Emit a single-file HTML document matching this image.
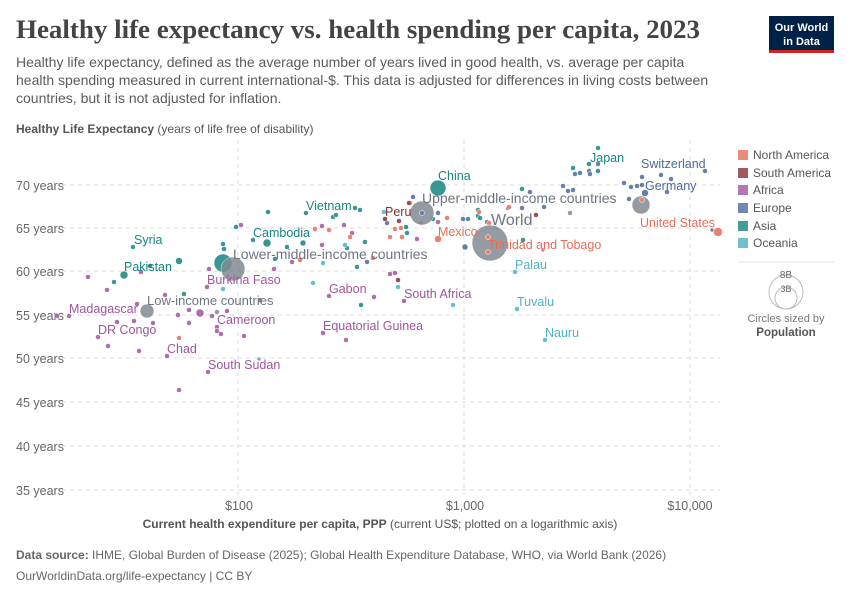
<!DOCTYPE html>
<html><head><meta charset="utf-8"><style>
body{margin:0;background:#fff;width:850px;height:600px;overflow:hidden;font-family:"Liberation Sans",sans-serif}
</style></head><body>
<svg width="850" height="600" xmlns="http://www.w3.org/2000/svg" font-family="Liberation Sans, sans-serif">
<text x="16" y="38" font-family="Liberation Serif, serif" font-size="26" font-weight="bold" fill="#444" textLength="684" lengthAdjust="spacingAndGlyphs">Healthy life expectancy vs. health spending per capita, 2023</text>
<g font-size="14" fill="#5b5b5b">
<text x="16" y="67">Healthy life expectancy, defined as the average number of years lived in good health, vs. average per capita</text>
<text x="16" y="85">health spending measured in current international-$. This data is adjusted for differences in living costs between</text>
<text x="16" y="103">countries, but it is not adjusted for inflation.</text>
</g>
<rect x="769" y="16" width="65" height="36" fill="#002147"/>
<rect x="769" y="50" width="65" height="3" fill="#ce261e"/>
<text x="801.5" y="31" font-size="11" font-weight="bold" fill="#fff" text-anchor="middle">Our World</text>
<text x="801.5" y="45" font-size="11" font-weight="bold" fill="#fff" text-anchor="middle">in Data</text>
<text x="16" y="133" font-size="12" fill="#555"><tspan font-weight="bold">Healthy Life Expectancy</tspan> (years of life free of disability)</text>
<g stroke="#ddd" stroke-dasharray="4,4" stroke-width="1">
<line x1="62" x2="720" y1="185" y2="185"/><line x1="62" x2="720" y1="228" y2="228"/><line x1="62" x2="720" y1="271" y2="271"/><line x1="62" x2="720" y1="315" y2="315"/><line x1="62" x2="720" y1="358" y2="358"/><line x1="62" x2="720" y1="402" y2="402"/><line x1="62" x2="720" y1="446" y2="446"/><line x1="62" x2="720" y1="490" y2="490"/>
<line x1="238" x2="238" y1="140" y2="495"/><line x1="464" x2="464" y1="140" y2="495"/><line x1="690" x2="690" y1="140" y2="495"/>
</g>
<g font-size="12.5" fill="#666">
<text x="16" y="190">70 years</text><text x="16" y="233">65 years</text><text x="16" y="276">60 years</text><text x="16" y="320">55 years</text><text x="16" y="363">50 years</text><text x="16" y="407">45 years</text><text x="16" y="451">40 years</text><text x="16" y="495">35 years</text>
</g>
<g font-size="12.5" fill="#666" text-anchor="middle">
<text x="239" y="510">$100</text><text x="465" y="510">$1,000</text><text x="690" y="510">$10,000</text>
</g>
<text x="380" y="528" font-size="12" fill="#555" text-anchor="middle"><tspan font-weight="bold">Current health expenditure per capita, PPP</tspan> (current US$; plotted on a logarithmic axis)</text>
<text x="16" y="559" font-size="12" fill="#666"><tspan font-weight="bold">Data source:</tspan> IHME, Global Burden of Disease (2025); Global Health Expenditure Database, WHO, via World Bank (2026)</text>
<text x="16" y="580" font-size="12" fill="#666">OurWorldinData.org/life-expectancy | CC BY</text>

<g stroke="#fff" stroke-width="0.5" opacity="0.85">
<g fill="#a2559c">
<circle cx="88" cy="277" r="2.5"/><circle cx="107" cy="290" r="2.5"/><circle cx="141" cy="272" r="2.5"/><circle cx="165" cy="295" r="2.5"/><circle cx="137" cy="304" r="2.5"/><circle cx="69" cy="316" r="2.5"/><circle cx="117" cy="322" r="2.5"/><circle cx="134" cy="321" r="2.5"/><circle cx="153" cy="323" r="2.5"/><circle cx="98" cy="337" r="2.5"/><circle cx="108" cy="346" r="2.5"/><circle cx="139" cy="351" r="2.5"/><circle cx="167" cy="356" r="2.5"/><circle cx="178" cy="315" r="2.5"/><circle cx="189" cy="310" r="2.5"/><circle cx="200" cy="313" r="4"/><circle cx="189" cy="323" r="2.5"/><circle cx="212" cy="316" r="2.5"/><circle cx="227" cy="311" r="2.5"/><circle cx="217" cy="327" r="2.5"/><circle cx="217" cy="331" r="2.5"/><circle cx="221" cy="334" r="2.5"/><circle cx="244" cy="336" r="2.5"/><circle cx="208" cy="372" r="2.5"/><circle cx="179" cy="390" r="2.5"/><circle cx="207" cy="287" r="2.5"/><circle cx="209" cy="269" r="2.5"/><circle cx="241" cy="225" r="2.5"/><circle cx="274" cy="269" r="2.5"/><circle cx="292" cy="262" r="2.5"/><circle cx="322" cy="226" r="2.5"/><circle cx="344" cy="225" r="2.5"/><circle cx="352" cy="233" r="2.5"/><circle cx="322" cy="245" r="2.5"/><circle cx="329" cy="296" r="2.5"/><circle cx="374" cy="297" r="2.5"/><circle cx="323" cy="333" r="2.5"/><circle cx="346" cy="340" r="2.5"/><circle cx="390" cy="274" r="2.5"/><circle cx="395" cy="273" r="2.5"/><circle cx="404" cy="301" r="2.5"/><circle cx="417" cy="239" r="2.5"/><circle cx="438" cy="222" r="2.5"/><circle cx="260" cy="300" r="2.5"/><circle cx="57" cy="316" r="2.5"/>
</g>
<g fill="#16857f">
<circle cx="133" cy="247" r="2.5"/><circle cx="124" cy="275" r="4"/><circle cx="114" cy="282" r="2.5"/><circle cx="179" cy="261" r="3.5"/><circle cx="184" cy="294" r="2.5"/><circle cx="223" cy="263" r="9"/><circle cx="223" cy="244" r="2.5"/><circle cx="224" cy="249" r="2.5"/><circle cx="236" cy="227" r="2.5"/><circle cx="268" cy="212" r="2.5"/><circle cx="253" cy="240" r="2.5"/><circle cx="267" cy="243" r="4"/><circle cx="287" cy="247" r="2.5"/><circle cx="303" cy="243" r="3"/><circle cx="275" cy="259" r="2.5"/><circle cx="306" cy="213" r="2.5"/><circle cx="333" cy="217" r="2.5"/><circle cx="336" cy="215" r="2.5"/><circle cx="355" cy="208" r="2.5"/><circle cx="360" cy="210" r="2.5"/><circle cx="365" cy="242" r="2.5"/><circle cx="347" cy="248" r="2.5"/><circle cx="357" cy="267" r="2.5"/><circle cx="361" cy="305" r="2.5"/><circle cx="406" cy="227" r="2.5"/><circle cx="407" cy="233" r="2.5"/><circle cx="438" cy="188" r="8"/><circle cx="433" cy="219" r="2.5"/><circle cx="478" cy="210" r="2.5"/><circle cx="478" cy="216" r="2.5"/><circle cx="480" cy="218" r="2.5"/><circle cx="523" cy="240" r="2.5"/><circle cx="522" cy="189" r="2.5"/><circle cx="598" cy="148" r="2.5"/><circle cx="573" cy="168" r="2.5"/><circle cx="589" cy="164" r="2.5"/><circle cx="598" cy="171" r="2.5"/><circle cx="150" cy="266" r="2.5"/>
</g>
<g fill="#4c6a9c">
<circle cx="367" cy="262" r="2.5"/><circle cx="387" cy="223" r="2.5"/><circle cx="413" cy="197" r="2.5"/><circle cx="438" cy="213" r="2.5"/><circle cx="463" cy="219" r="2.5"/><circle cx="468" cy="219" r="2.5"/><circle cx="487" cy="222" r="2.5"/><circle cx="508" cy="208" r="2.5"/><circle cx="522" cy="208" r="2.5"/><circle cx="544" cy="207" r="2.5"/><circle cx="530" cy="192" r="2.5"/><circle cx="563" cy="186" r="2.5"/><circle cx="568" cy="191" r="2.5"/><circle cx="573" cy="190" r="2.5"/><circle cx="465" cy="247" r="3"/><circle cx="598" cy="164" r="2.5"/><circle cx="575" cy="174" r="2.5"/><circle cx="580" cy="173" r="2.5"/><circle cx="589" cy="171" r="2.5"/><circle cx="590" cy="174" r="2.5"/><circle cx="624" cy="183" r="2.5"/><circle cx="631" cy="187" r="2.5"/><circle cx="637" cy="186" r="2.5"/><circle cx="642" cy="177" r="2.5"/><circle cx="642" cy="185" r="2.5"/><circle cx="645" cy="193" r="3.5"/><circle cx="661" cy="175" r="2.5"/><circle cx="671" cy="179" r="2.5"/><circle cx="667" cy="192" r="2.5"/><circle cx="629" cy="199" r="2.5"/><circle cx="705" cy="171" r="2.5"/><circle cx="712" cy="230" r="2"/>
</g>
<g fill="#883039">
<circle cx="385" cy="219" r="2.5"/><circle cx="399" cy="221" r="2.5"/><circle cx="410" cy="203" r="2.5"/><circle cx="409" cy="203" r="2.5"/><circle cx="398" cy="280" r="2.5"/><circle cx="536" cy="215" r="2.5"/>
</g>
<g fill="#e56e5a">
<circle cx="179" cy="338" r="2.5"/><circle cx="300" cy="260" r="2.5"/><circle cx="315" cy="229" r="2.5"/><circle cx="329" cy="230" r="2.5"/><circle cx="350" cy="237" r="2.5"/><circle cx="373" cy="258" r="2.5"/><circle cx="390" cy="237" r="2.5"/><circle cx="395" cy="229" r="2.5"/><circle cx="401" cy="228" r="2.5"/><circle cx="402" cy="237" r="2.5"/><circle cx="421" cy="223" r="2.5"/><circle cx="447" cy="218" r="2.5"/><circle cx="438" cy="239" r="3.5"/><circle cx="479" cy="212" r="2.5"/><circle cx="489" cy="223" r="2.5"/><circle cx="509" cy="207" r="2.5"/><circle cx="543" cy="250" r="2"/><circle cx="718" cy="232" r="4.5"/>
</g>
<g fill="#4fb3c2">
<circle cx="223" cy="289" r="2.5"/><circle cx="313" cy="283" r="2.5"/><circle cx="345" cy="245" r="2.5"/><circle cx="323" cy="263" r="2.5"/><circle cx="384" cy="212" r="2.5"/><circle cx="398" cy="287" r="2.5"/><circle cx="453" cy="305" r="2.5"/><circle cx="515" cy="272" r="2.5"/><circle cx="517" cy="309" r="2.5"/><circle cx="545" cy="340" r="2.5"/>
</g>
<g fill="#6e7581" opacity="0.85">
<circle cx="147" cy="311" r="7"/><circle cx="233" cy="269" r="12"/><circle cx="422" cy="213" r="12"/><circle cx="490" cy="243" r="18"/><circle cx="641" cy="205" r="9"/><circle cx="217" cy="312" r="2.5"/><circle cx="570" cy="213" r="2.5"/><circle cx="259" cy="359" r="2"/>
</g>
<circle cx="642" cy="200" r="2.5" fill="#e56e5a"/><circle cx="488" cy="252" r="2.5" fill="#e56e5a"/><circle cx="488" cy="237" r="2.5" fill="#e56e5a"/><circle cx="422" cy="213" r="2.5" fill="#4c6a9c"/>
</g>

<g font-size="12.5">
<text x="134" y="244" fill="#16857f">Syria</text>
<text x="124" y="271" fill="#16857f">Pakistan</text>
<text x="306" y="210" fill="#16857f">Vietnam</text>
<text x="253" y="237" fill="#16857f">Cambodia</text>
<text x="438" y="180" fill="#16857f">China</text>
<text x="590" y="162" fill="#16857f">Japan</text>
<text x="641" y="168" fill="#4c6a9c">Switzerland</text>
<text x="645" y="190" fill="#4c6a9c">Germany</text>
<text x="640" y="227" fill="#e56e5a">United States</text>
<text x="438" y="236" fill="#e56e5a">Mexico</text>
<text x="488" y="249" fill="#e56e5a">Trinidad and Tobago</text>
<text x="385" y="216" fill="#883039">Peru</text>
<text x="515" y="269" fill="#4fb3c2">Palau</text>
<text x="517" y="306" fill="#4fb3c2">Tuvalu</text>
<text x="545" y="337" fill="#4fb3c2">Nauru</text>
<text x="207" y="284" fill="#a2559c">Burkina Faso</text>
<text x="329" y="293" fill="#a2559c">Gabon</text>
<text x="404" y="298" fill="#a2559c">South Africa</text>
<text x="69" y="313" fill="#a2559c">Madagascar</text>
<text x="98" y="334" fill="#a2559c">DR Congo</text>
<text x="217" y="324" fill="#a2559c">Cameroon</text>
<text x="323" y="330" fill="#a2559c">Equatorial Guinea</text>
<text x="167" y="353" fill="#a2559c">Chad</text>
<text x="208" y="369" fill="#a2559c">South Sudan</text>
</g>
<g font-size="14" fill="#6e7581">
<text x="147" y="305" font-size="13">Low-income countries</text>
<text x="233" y="259">Lower-middle-income countries</text>
<text x="422" y="203">Upper-middle-income countries</text>
<text x="491" y="225" font-size="16">World</text>
</g>

<g font-size="12" fill="#555">
<rect x="738" y="150" width="10" height="10" fill="#e56e5a" opacity="0.8"/><text x="753" y="159">North America</text>
<rect x="738" y="168" width="10" height="10" fill="#883039" opacity="0.8"/><text x="753" y="177">South America</text>
<rect x="738" y="185" width="10" height="10" fill="#a2559c" opacity="0.8"/><text x="753" y="194">Africa</text>
<rect x="738" y="203" width="10" height="10" fill="#4c6a9c" opacity="0.8"/><text x="753" y="212">Europe</text>
<rect x="738" y="221" width="10" height="10" fill="#16857f" opacity="0.8"/><text x="753" y="230">Asia</text>
<rect x="738" y="238" width="10" height="10" fill="#4fb3c2" opacity="0.8"/><text x="753" y="247">Oceania</text>
</g>
<line x1="738" x2="834" y1="262" y2="262" stroke="#e5e5e5"/>
<circle cx="786" cy="292" r="17" fill="none" stroke="#bbb"/>
<circle cx="786" cy="298" r="11" fill="none" stroke="#bbb"/>
<text x="786" y="278" font-size="10" fill="#666" text-anchor="middle">8B</text>
<text x="786" y="292" font-size="9" fill="#666" text-anchor="middle">3B</text>
<text x="786" y="322" font-size="11" fill="#777" text-anchor="middle">Circles sized by</text>
<text x="786" y="336" font-size="11.5" fill="#555" font-weight="bold" text-anchor="middle">Population</text>
</svg>
</body></html>
